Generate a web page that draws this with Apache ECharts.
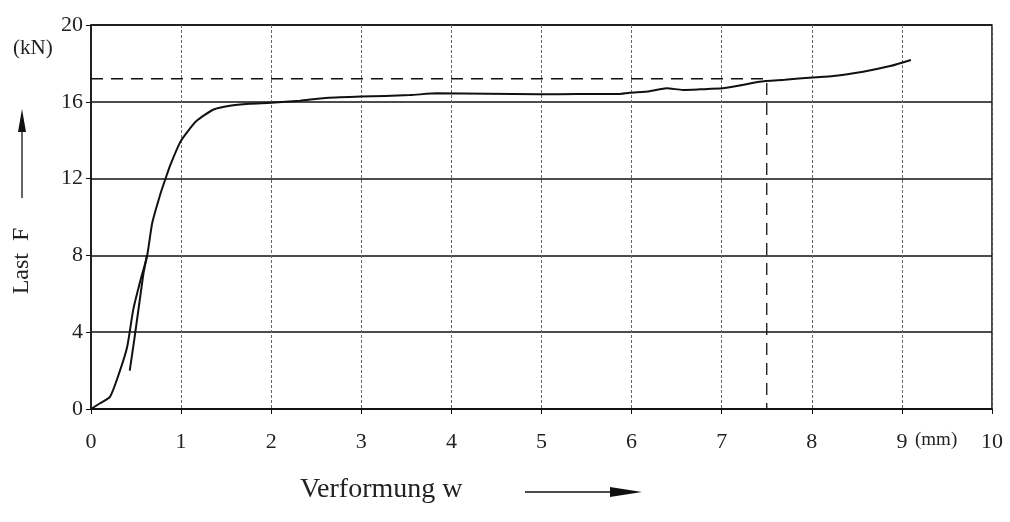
<!DOCTYPE html>
<html>
<head>
<meta charset="utf-8">
<script src="https://cdn.jsdelivr.net/npm/echarts@6/dist/echarts.min.js"></script>
<style>
  html, body { margin: 0; padding: 0; background: #fff; }
  #chart { width: 1010px; height: 522px; }
</style>
</head>
<body>
<div id="chart"></div>
<script>
// Verformung w (mm) / Last F (kN), Hauptkurve
var curveW = [0, 0.1, 0.21, 0.3, 0.4, 0.47, 0.56, 0.62, 0.68, 0.77, 0.82, 0.88, 0.99, 1.08, 1.17, 1.36, 1.54, 1.76, 2.0, 2.32, 2.6, 2.99, 3.54, 3.84, 4.4, 4.98, 5.4, 5.84, 5.98, 6.2, 6.39, 6.57, 6.76, 7.01, 7.2, 7.42, 7.7, 8.01, 8.24, 8.57, 8.87, 9.1];
var curveF = [0, 0.3, 0.63, 1.7, 3.2, 5.2, 6.9, 7.9, 9.7, 11.2, 11.9, 12.7, 13.9, 14.5, 15.0, 15.6, 15.8, 15.9, 15.95, 16.06, 16.2, 16.27, 16.35, 16.44, 16.42, 16.39, 16.4, 16.4, 16.47, 16.55, 16.7, 16.62, 16.65, 16.7, 16.85, 17.05, 17.15, 17.27, 17.34, 17.57, 17.86, 18.18];
// Nebenast (Wiederbelastung)
var branchW = [0.43, 0.48, 0.53, 0.58, 0.62];
var branchF = [2.0, 3.6, 5.3, 7.0, 8.0];
// Ablesehilfe gestrichelt
var guideW = [0, 7.5, 7.5];
var guideF = [17.2, 17.2, 0];

function pairs(xs, ys) {
    var out = [];
    for (var i = 0; i < xs.length; i++) {
        out.push([xs[i], ys[i]]);
    }
    return out;
}

var serif = 'Liberation Serif';
var myChart = echarts.init(document.getElementById('chart'));
var option = {
    animation: false,
    backgroundColor: '#fff',
    grid: {
        left: 91,
        right: 18,
        top: 25,
        bottom: 113,
        show: true,
        borderColor: '#111',
        borderWidth: 1.5
    },
    xAxis: {
        type: 'value',
        min: 0,
        max: 10,
        interval: 1,
        axisLine: { lineStyle: { color: '#111', width: 1.5 } },
        axisTick: { show: true, length: 5, lineStyle: { color: '#111' } },
        axisLabel: {
            margin: 22,
            fontFamily: serif,
            fontSize: 22,
            color: '#222'
        },
        splitLine: { show: true, lineStyle: { color: '#666', width: 1, type: [3, 2] } }
    },
    yAxis: {
        type: 'value',
        min: 0,
        max: 20,
        interval: 4,
        axisLine: { show: true, lineStyle: { color: '#111', width: 1.5 } },
        axisTick: { show: true, length: 5, lineStyle: { color: '#111' } },
        axisLabel: {
            margin: 8,
            fontFamily: serif,
            fontSize: 22,
            color: '#222'
        },
        splitLine: { show: true, lineStyle: { color: '#111', width: 1.5 } }
    },
    graphic: [
        { type: 'text', left: 13, top: 38, style: { text: '(kN)', font: '21px ' + serif, fill: '#222' } },
        { type: 'text', x: 22, y: 261, rotation: Math.PI / 2, style: { text: 'Last  F', font: '24px ' + serif, fill: '#222', align: 'center', verticalAlign: 'middle' } },
        { type: 'line', shape: { x1: 22, y1: 198, x2: 22, y2: 128 }, style: { stroke: '#111', lineWidth: 1.3 } },
        { type: 'polygon', shape: { points: [[22, 109], [18, 132], [26, 132]] }, style: { fill: '#111' } },
        { type: 'text', left: 915, top: 431, style: { text: '(mm)', font: '19px ' + serif, fill: '#222' } },
        { type: 'text', left: 300, top: 476, style: { text: 'Verformung w', font: '28px ' + serif, fill: '#222' } },
        { type: 'line', shape: { x1: 525, y1: 492, x2: 615, y2: 492 }, style: { stroke: '#111', lineWidth: 1.3 } },
        { type: 'polygon', shape: { points: [[642, 492], [610, 487], [610, 497]] }, style: { fill: '#111' } }
    ],
    series: [
        {
            type: 'line',
            data: pairs(guideW, guideF),
            symbol: 'none',
            lineStyle: { color: '#111', width: 1.3, type: [12, 8] },
            z: 3
        },
        {
            type: 'line',
            data: pairs(curveW, curveF),
            symbol: 'none',
            smooth: 0.2,
            lineStyle: { color: '#111', width: 2 },
            z: 5
        },
        {
            type: 'line',
            data: pairs(branchW, branchF),
            symbol: 'none',
            lineStyle: { color: '#111', width: 2 },
            z: 5
        }
    ]
};
myChart.setOption(option);
</script>
</body>
</html>
